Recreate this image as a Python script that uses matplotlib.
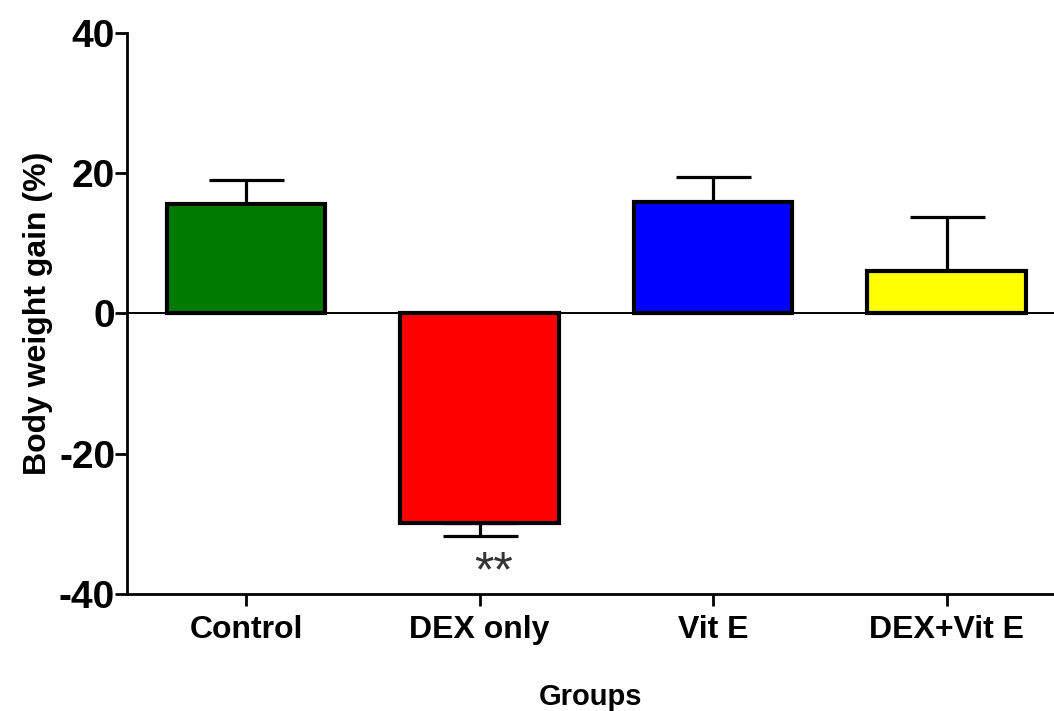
import matplotlib
matplotlib.use("Agg")
import matplotlib.pyplot as plt

groups = ["Control", "DEX only", "Vit E", "DEX+Vit E"]
gain = [15.6, -29.9, 15.9, 6.1]
sem = [3.4, 1.8, 3.5, 7.7]
colors = ["#007a00", "#ff0000", "#0000ff", "#ffff00"]

plt.rcParams['font.family'] = ['Liberation Sans', 'DejaVu Sans']
plt.rcParams['axes.unicode_minus'] = False

fig = plt.figure(figsize=(10.54, 7.11), dpi=100)
ax = fig.add_axes([0.1205, 0.1646, 0.8795, 0.789])

x = list(range(len(groups)))
ax.bar(x, gain, width=0.68, color=colors, edgecolor='black', linewidth=3, zorder=3)

# one-sided error bars, pointing away from zero
for xi, g, e in zip(x, gain, sem):
    yerr = [[0], [e]] if g >= 0 else [[e], [0]]
    ax.errorbar([xi], [g], yerr=yerr, fmt='none', ecolor='black',
                elinewidth=2.3, capsize=27, capthick=2.3, zorder=2)

ax.axhline(0, color='black', linewidth=1.4, zorder=4)
ax.text(1.06, -37.0, "**", ha='center', va='center', fontsize=36, color='#333333')

ax.set_xlim(-0.51, 3.46)
ax.set_ylim(-40, 40)
ax.set_yticks([-40, -20, 0, 20, 40])
ax.set_xticks(x)
ax.set_xticklabels(groups, fontsize=23, fontweight='bold')
for lab in ax.get_yticklabels():
    lab.set_fontsize(28)
    lab.set_fontweight('bold')

ax.spines['top'].set_visible(False)
ax.spines['right'].set_visible(False)
ax.spines['left'].set_linewidth(2)
ax.spines['bottom'].set_linewidth(2)
ax.tick_params(axis='y', length=8.5, width=2, pad=0)
ax.tick_params(axis='x', length=8.5, width=2, pad=7)

ax.set_ylabel("Body weight gain (%)", fontsize=23, fontweight='bold', labelpad=4)
ax.set_xlabel("Groups", fontsize=21, fontweight='bold', labelpad=27)

fig.savefig("out.png", dpi=100)
